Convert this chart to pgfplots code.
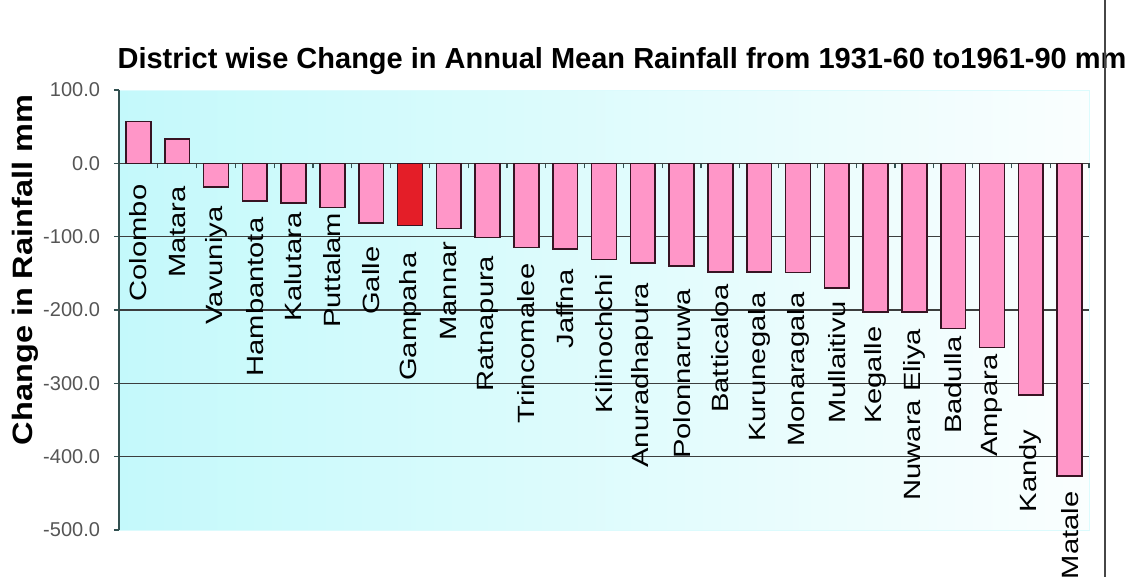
\documentclass[border=0pt]{standalone}
\usepackage{fontspec}
\setmainfont{Liberation Sans}
\usepackage{pgfplots}
\usepackage{pgfplotstable}
\pgfplotsset{compat=1.18}
% district names are set tall and narrow, as in a squeezed spreadsheet chart
\newfontfamily\labelfont[FakeStretch=1.24]{Liberation Sans}
\newfontfamily\ylabfont[FakeStretch=1.16]{Liberation Sans}

\definecolor{barpink}{RGB}{255,150,200}
\definecolor{barred}{RGB}{228,30,40}
\definecolor{baredge}{RGB}{55,20,35}
\definecolor{bgcyan}{RGB}{196,249,251}
\definecolor{bgwhite}{RGB}{250,254,254}
\definecolor{gridc}{RGB}{60,62,62}
\definecolor{axisc}{RGB}{50,80,80}
\definecolor{tickc}{RGB}{85,85,85}
\definecolor{rulec}{RGB}{70,70,70}

% change in annual mean rainfall (mm); ly is the top end of each district name
\pgfplotstableread{
x  val   ly      name
0   57   -28.6   Colombo
1   33   -31.4   Matara
2  -32   -58.6   Vavuniya
3  -51   -73.6   Hambantota
4  -54   -66.8   Kalutara
5  -60   -66.8   Puttalam
6  -81   -113.2  Galle
7  -85   -121.4  Gampaha
8  -89   -106.4  Mannar
9  -101  -125.5  Ratnapura
10 -115  -136.4  Trincomalee
11 -117  -144.5  Jaffna
12 -131  -150.0  Kilinochchi
13 -136  -162.3  Anuradhapura
14 -140  -170.5  Polonnaruwa
15 -148  -165.0  Batticaloa
16 -148  -175.9  Kurunegala
17 -149  -175.9  Monaragala
18 -170  -188.2  Mullaitivu
19 -203  -222.3  Kegalle
20 -203  -225.0  {Nuwara Eliya}
21 -225  -235.9  Badulla
22 -251  -260.5  Ampara
23 -316  -362.7  Kandy
24 -426  -447.3  Matale
}\rainfall

\begin{document}
\begin{tikzpicture}
\path[use as bounding box] (-59.5bp,-23.5bp) rectangle (510bp,265bp);
\begin{axis}[
  at={(0,0)}, anchor=south west,
  scale only axis, width=485bp, height=220bp,
  xmin=-0.5, xmax=24.5, ymin=-500, ymax=100,
  axis y line*=left, axis x line*=middle,
  axis line style={axisc, line width=0.8bp},
  axis background/.style={left color=bgcyan, right color=bgwhite, draw=bgcyan!60},
  tick align=outside, major tick length=2.5bp,
  tick style={axisc, line width=0.6bp},
  xtick={-0.5,0.5,...,24.5}, xticklabel=\empty,
  ytick={-500,-400,-300,-200,-100,0,100},
  yticklabels={-500.0,-400.0,-300.0,-200.0,-100.0,0.0,100.0},
  yticklabel style={font=\fontsize{10bp}{11bp}\selectfont, text=tickc, xshift=-3.5bp},
  extra y ticks={-400,-300,-200,-100,0},
  extra y tick labels={},
  extra y tick style={grid=major, major tick length=0pt},
  major grid style={gridc, line width=0.7bp},
  title={District wise Change in Annual Mean Rainfall from 1931-60 to1961-90 mm},
  title style={at={(axis description cs:0.5186,1.0228)}, anchor=base,
    font=\bfseries\fontsize{14.5bp}{16bp}\selectfont},
  ylabel={Change in Rainfall mm},
  ylabel style={at={(axis description cs:-0.097,0.591)}, anchor=center,
    font=\ylabfont\bfseries\fontsize{14bp}{16bp}\selectfont},
  clip=false,
]
\addplot[ybar, bar width=0.64, bar shift=0pt, fill=barpink, draw=baredge,
  line width=0.8bp] table[x=x, y=val] {\rainfall};
\addplot[ybar, bar width=0.64, bar shift=0pt, fill=barred, draw=baredge,
  line width=0.8bp] coordinates {(7,-85)};
\addplot[draw=none, mark=none, nodes near coords, point meta=explicit symbolic,
  nodes near coords style={rotate=90, anchor=east, inner xsep=0pt, inner ysep=0pt,
    text=black, font=\labelfont\fontsize{11.75bp}{13bp}\selectfont}]
  table[x=x, y=ly, meta=name] {\rainfall};
\end{axis}
\draw[rulec, line width=0.7bp] (493bp,-23.5bp) -- (493bp,265bp);
\end{tikzpicture}
\end{document}
